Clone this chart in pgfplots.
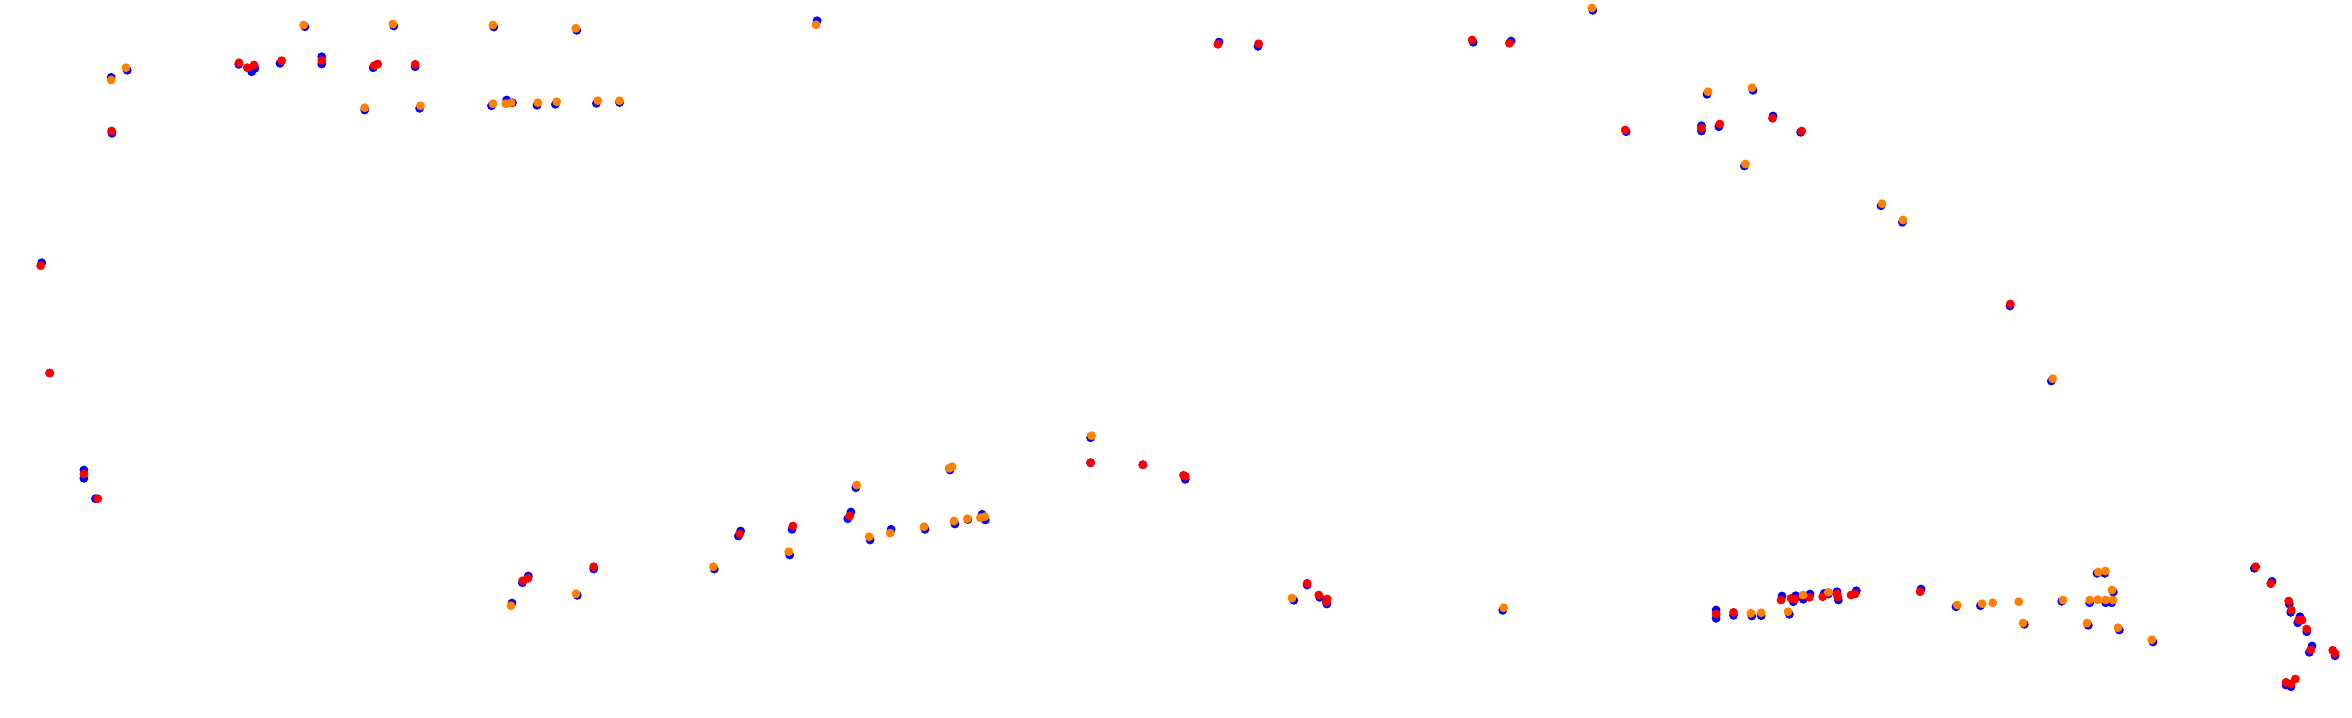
\documentclass[border=0pt]{standalone}
\usepackage{pgfplots}
\pgfplotsset{compat=1.18}
\definecolor{dotblue}{RGB}{0,0,255}
\definecolor{dotred}{RGB}{255,0,0}
\definecolor{dotorange}{RGB}{255,128,0}
\begin{document}
\begin{tikzpicture}
\begin{axis}[
    width=23.52cm, height=7.17cm,
    scale only axis,
    xmin=0, xmax=2352, ymin=0, ymax=717,
    y dir=reverse,
    axis line style={draw=none},
    ticks=none,
    clip=false,
]

% blue series (underneath)
\addplot[only marks, mark=*, mark size=1.05pt, color=dotblue, fill=dotblue] coordinates {
(304.9,26.7) (393.8,26) (493.8,27) (576.8,30.3)
(238.8,64.3) (251.7,71.7) (255,68.3) (280,63.3) (321.7,56.7) (321.7,64) (373.2,67.7) (415.2,66.7)
(127.2,70.3) (111.2,77.3) (112,133.3)
(364.7,110) (419.6,108.3) (491.5,105.7) (506.7,100) (512.5,102.7) (537,105.3) (555.4,104.3) (596.4,103.3) (619.6,102.5)
(817.1,20.7)
(1219,42) (1258,46.3) (1473.2,42.3) (1511.1,41) (1592.7,10.3)
(1707,94.3) (1753,90.3) (1626.2,131.7) (1701.4,125.7) (1701.4,131) (1718.8,126.7) (1773,116) (1800.6,132.3) (1744.4,166) (1881,205.7) (1902.4,222.3)
(2010,306) (2051.3,381)
(41.7,262.7) (49.7,373) (83.9,470) (83.9,478.3) (95.5,498.7)
(512,603) (522.3,582.7) (528.3,576) (577.3,595.3) (593.7,569)
(714.3,569) (740.6,531) (738.4,536) (789.7,555) (792,529.3) (850.9,512) (847.8,518.7) (855.8,487.7) (870.1,540) (891.1,529.3) (925,529.3) (950,470) (954.9,524) (967.8,519.5) (982.1,514.3) (985.3,520)
(1090.6,437.7) (1090.6,462.7) (1142.9,464.7) (1185.3,479.3)
(1293.8,600.3) (1307.1,585) (1319.6,597.3) (1326.8,604)
(1502.7,610.3)
(1716.1,610) (1716.1,618.3) (1733.5,615.3) (1751.8,616) (1761.2,615.7) (1789.3,614.3)
(1782,596) (1793.3,601.7) (1795.7,595.7) (1803.3,599.3) (1810,594) (1824.3,593.3) (1828.3,594) (1837,591.7) (1838.3,600) (1856.3,590.7) (1921,589)
(1956,606.7) (1980.4,605.7) (2024.3,624.3) (2061.7,601.3) (2097,573.3) (2104.7,573.3) (2089.7,602.7) (2105.7,602.7) (2111.7,602.7) (2113.3,592) (2088.3,625.3) (2119.3,630) (2153,642)
(2254.3,568.3) (2272,581.3) (2289.3,604) (2290.7,612.3) (2300,616.7) (2297.7,622.7) (2306.7,631.7) (2312,646) (2309.3,652.3) (2335,655.7) (2286,685) (2291,686.7)
};

% red series
\addplot[only marks, mark=*, mark size=1.05pt, color=dotred, fill=dotred] coordinates {
(239,62.7) (247.3,67.7) (254,65) (281.7,60.7) (321.7,60.5) (374.1,65.7) (377.7,64) (415.2,64.3) (111.6,131)
(1217.8,44.3) (1258.6,43.7) (1472.1,40) (1509.4,43.3)
(1625.2,130) (1701.4,128.3) (1719.8,124) (1772.5,118.3) (1801.7,131)
(2010.3,304)
(40.7,265.7) (49.7,373) (83.9,474) (97.8,498.7)
(522.7,580.7) (528,578.3) (593.7,566.7)
(739.7,534) (792.9,526) (849.6,516)
(1090.6,462.7) (1142.9,464.7) (1185.3,476.3) (1183.5,475.3)
(1307.1,583.3) (1318.8,595) (1327.2,599) (1326.3,602)
(1716.1,614) (1733.5,612.3)
(1781,600) (1791,598.3) (1795,599) (1809.3,597.3) (1822.7,596.7) (1837.7,596.7) (1837,594) (1851,595) (1855,594)
(1920.1,591.7)
(2255.7,566.7) (2270.7,583.7) (2288.7,601) (2291.3,610) (2298.7,620) (2302,620) (2306.7,629) (2310.7,650) (2332.7,650.3) (2335,653.3) (2286,682.3) (2291,684) (2295.3,679)
};

% orange series
\addplot[only marks, mark=*, mark size=1.05pt, color=dotorange, fill=dotorange] coordinates {
(303.6,25) (392.9,24) (492.9,25) (575.9,28.3)
(125.9,67.7) (111.2,80)
(364.7,107.7) (420.5,105.7) (492.9,103.7) (505.8,103.7) (511.2,102.7) (537.9,102.7) (556.7,101.7) (597.8,100.7) (619.6,100.7)
(816,24.7) (1591.9,8)
(1708,91.7) (1752,87.7) (1745.4,164) (1882,203.7) (1903,220)
(2052.7,378.7)
(511,605.7) (576,593.7)
(713.4,566.7) (788.8,551.7) (856.7,485) (869.2,536.7) (890.2,533) (924.1,526.7) (952.2,466.7) (949.1,468.3) (954,521) (967.4,518.7) (980.4,517.7) (984.8,516.7)
(1091.5,435.7)
(1292,598)
(1503.6,607.7)
(1750.9,613.3) (1761.2,612.7) (1788,611.7) (1803,595) (1828.3,592.3)
(1957.3,605) (1982,603.7) (1992.7,602.7) (2018.7,601.7) (2023,623) (2063,600) (2098.3,572) (2105.3,571) (2089.7,600) (2097.7,599.7) (2105.7,600) (2113,600) (2112,590) (2087,623) (2118,627.7) (2151.7,639.7)
};
\end{axis}
\end{tikzpicture}
\end{document}
